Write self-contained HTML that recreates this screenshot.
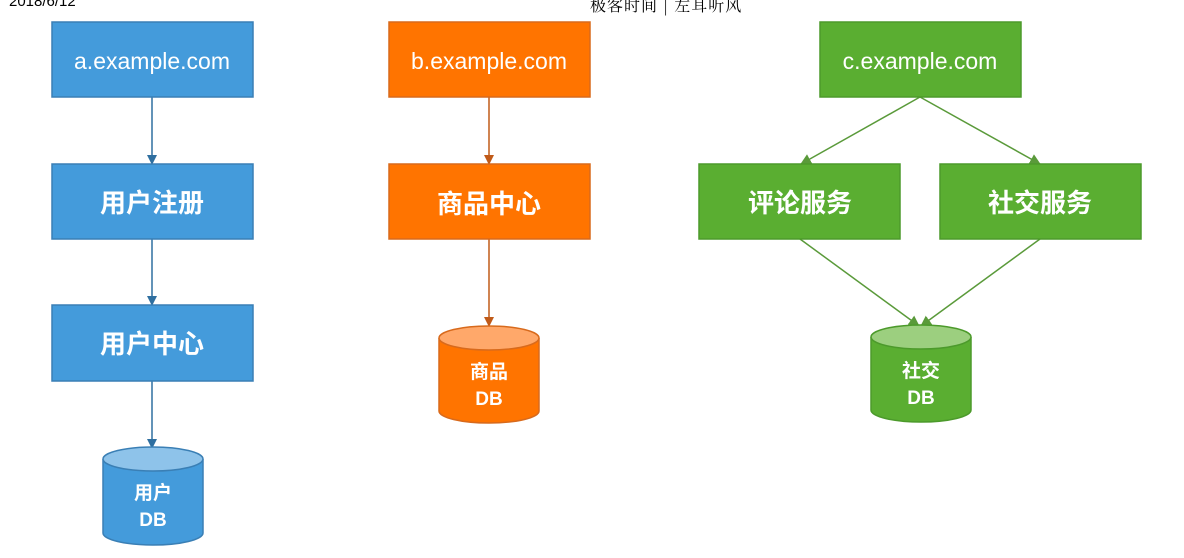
<!DOCTYPE html>
<html><head><meta charset="utf-8"><style>
body{margin:0;background:#fff;width:1184px;height:558px;overflow:hidden;position:relative;font-family:"Liberation Sans","Noto Sans CJK SC",sans-serif}
.hd{position:absolute;font-size:15px;color:#000;top:-7px}
</style></head><body>
<div class="hd" style="left:9px;font-family:'Liberation Sans',sans-serif">2018/6/12</div>
<div class="hd" style="left:590px;font-size:16px;letter-spacing:1px;font-family:'Noto Serif CJK SC',serif">极客时间 | 左耳听风</div>
<svg width="1184" height="558" style="position:absolute;left:0;top:0" font-family="Liberation Sans, Noto Sans CJK SC, sans-serif">
<defs>
<marker id="ab" markerWidth="10" markerHeight="10" refX="9" refY="5" orient="auto" markerUnits="userSpaceOnUse"><path d="M0,0L10,5L0,10z" fill="#2f6fa0"/></marker>
<marker id="ao" markerWidth="10" markerHeight="10" refX="9" refY="5" orient="auto" markerUnits="userSpaceOnUse"><path d="M0,0L10,5L0,10z" fill="#c05a18"/></marker>
<marker id="ag" markerWidth="11" markerHeight="11" refX="10" refY="5.5" orient="auto" markerUnits="userSpaceOnUse"><path d="M0,0L11,5.5L0,11z" fill="#5a9a3a"/></marker>
</defs>
<g stroke-width="1.5" fill="none">
<line x1="152" y1="97" x2="152" y2="164" stroke="#2f6fa0" marker-end="url(#ab)"/>
<line x1="152" y1="239" x2="152" y2="305" stroke="#2f6fa0" marker-end="url(#ab)"/>
<line x1="152" y1="381" x2="152" y2="448" stroke="#2f6fa0" marker-end="url(#ab)"/>
<line x1="489" y1="97" x2="489" y2="164" stroke="#c05a18" marker-end="url(#ao)"/>
<line x1="489" y1="239" x2="489" y2="326" stroke="#c05a18" marker-end="url(#ao)"/>
<line x1="920" y1="97" x2="801" y2="164" stroke="#5a9a3a" marker-end="url(#ag)"/>
<line x1="920" y1="97" x2="1040" y2="164" stroke="#5a9a3a" marker-end="url(#ag)"/>
<line x1="800" y1="239" x2="919" y2="326" stroke="#5a9a3a" marker-end="url(#ag)"/>
<line x1="1040" y1="239" x2="921" y2="326" stroke="#5a9a3a" marker-end="url(#ag)"/>
</g>
<g stroke-width="1.5" font-size="23" fill="#fff" text-anchor="middle" font-weight="500">
<rect x="52" y="22" width="201" height="75" fill="#449bdb" stroke="#3a7fb5"/>
<rect x="52" y="164" width="201" height="75" fill="#449bdb" stroke="#3a7fb5"/>
<rect x="52" y="305" width="201" height="76" fill="#449bdb" stroke="#3a7fb5"/>
<rect x="389" y="22" width="201" height="75" fill="#ff7400" stroke="#d86a1c"/>
<rect x="389" y="164" width="201" height="75" fill="#ff7400" stroke="#d86a1c"/>
<rect x="820" y="22" width="201" height="75" fill="#5aae31" stroke="#4c9a2b"/>
<rect x="699" y="164" width="201" height="75" fill="#5aae31" stroke="#4c9a2b"/>
<rect x="940" y="164" width="201" height="75" fill="#5aae31" stroke="#4c9a2b"/>
<text x="152" y="69">a.example.com</text>
<text x="489" y="69">b.example.com</text>
<text x="920" y="69">c.example.com</text>
<g font-size="26" font-weight="600">
<text x="152" y="212">用户注册</text>
<text x="152" y="353">用户中心</text>
<text x="489" y="213">商品中心</text>
<text x="800" y="212">评论服务</text>
<text x="1040" y="212">社交服务</text>
</g>
</g>
<g stroke-width="1.5">
<path d="M103,459 V533 A50,12 0 0 0 203,533 V459" fill="#449bdb" stroke="#3a7fb5"/>
<ellipse cx="153" cy="459" rx="50" ry="12" fill="#8ec3ea" stroke="#3a7fb5"/>
<path d="M439,338 V411 A50,12 0 0 0 539,411 V338" fill="#ff7400" stroke="#d86a1c"/>
<ellipse cx="489" cy="338" rx="50" ry="12" fill="#ffa86a" stroke="#d86a1c"/>
<path d="M871,337 V410 A50,12 0 0 0 971,410 V337" fill="#5aae31" stroke="#4c9a2b"/>
<ellipse cx="921" cy="337" rx="50" ry="12" fill="#9ccf7f" stroke="#4c9a2b"/>
</g>
<g fill="#fff" font-size="19" text-anchor="middle" font-weight="600">
<text x="153" y="499">用户</text><text x="153" y="526">DB</text>
<text x="489" y="378">商品</text><text x="489" y="405">DB</text>
<text x="921" y="377">社交</text><text x="921" y="404">DB</text>
</g>
</svg>
</body></html>
